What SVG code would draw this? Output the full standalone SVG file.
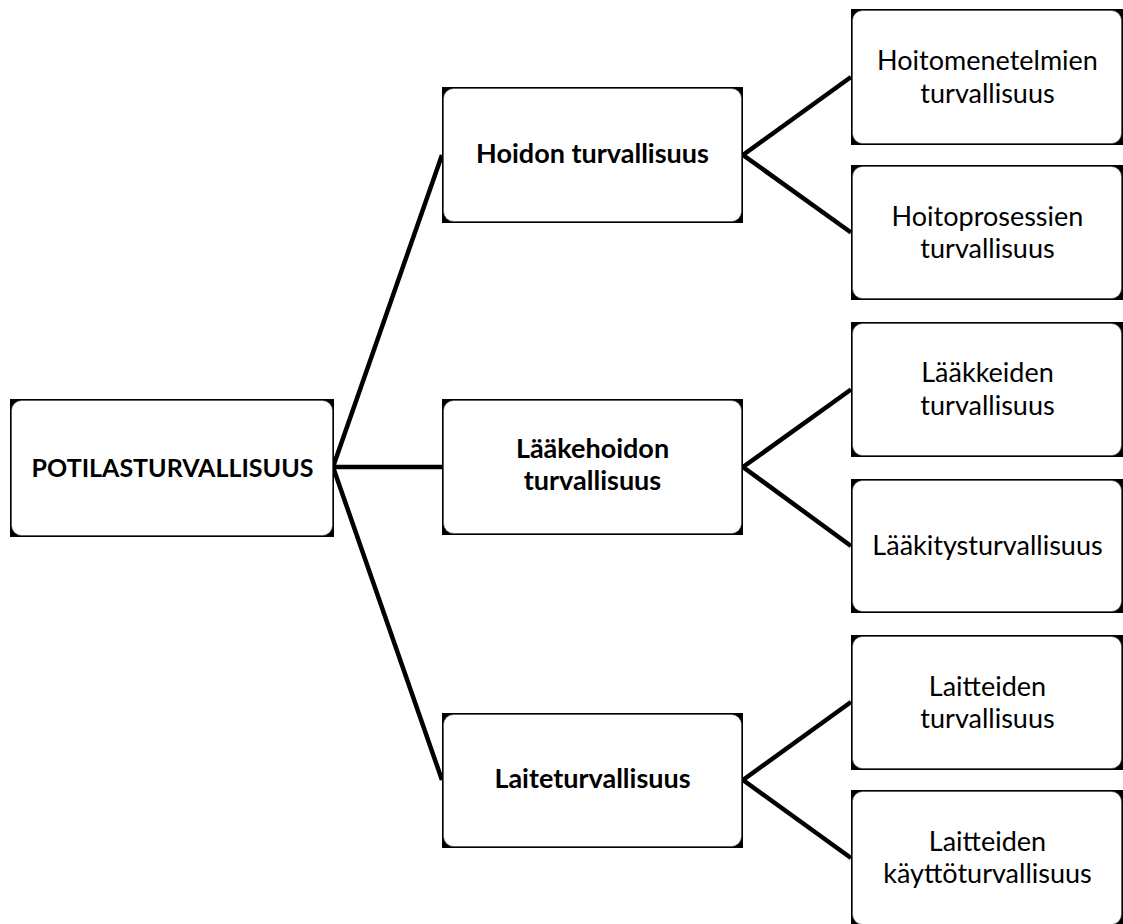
<svg xmlns="http://www.w3.org/2000/svg" width="1123" height="924" viewBox="0 0 1123 924">
<defs>
<style>
.bg{fill:#000}
.fg{fill:#fff;stroke:#444;stroke-width:0.6}
.t{font-family:Lato,"Liberation Sans",sans-serif;font-size:27px;fill:#000;text-anchor:middle}
.b{font-weight:bold}
.r{font-size:25px}
.c{stroke:#000;stroke-width:4.5;fill:none;stroke-linejoin:miter}
</style>
</defs>
<rect width="1123" height="924" fill="#fff"/>
<g id="connectors">
<polyline class="c" points="442,155 333,467 442,780"/>
<line class="c" x1="333" y1="467" x2="442" y2="467"/>
<polyline class="c" points="851,77 743,155 851,232.5"/>
<polyline class="c" points="851,389.5 743,467 851,546"/>
<polyline class="c" points="851,702 743,780 851,858"/>
</g>
<g id="root">
<rect class="bg" x="10" y="399" width="324" height="138"/>
<rect class="fg" x="11.5" y="400.5" width="321" height="135" rx="10"/>
<text class="t b r" x="172.5" y="477">POTILASTURVALLISUUS</text>
</g>
<g id="hoidon">
<rect class="bg" x="442" y="87" width="301" height="136"/>
<rect class="fg" x="443.5" y="88.5" width="298" height="133" rx="10"/>
<text class="t b" x="592.5" y="163">Hoidon turvallisuus</text>
</g>
<g id="laakehoidon">
<rect class="bg" x="442" y="399" width="301" height="136"/>
<rect class="fg" x="443.5" y="400.5" width="298" height="133" rx="10"/>
<text class="t b" x="592.5" y="458">Lääkehoidon</text>
<text class="t b" x="592.5" y="490">turvallisuus</text>
</g>
<g id="laite">
<rect class="bg" x="442" y="713" width="301" height="135"/>
<rect class="fg" x="443.5" y="714.5" width="298" height="132" rx="10"/>
<text class="t b" x="592.5" y="788">Laiteturvallisuus</text>
</g>
<g id="hoitomenetelmien">
<rect class="bg" x="851" y="9" width="272" height="136"/>
<rect class="fg" x="852.5" y="10.5" width="269" height="133" rx="10"/>
<text class="t" x="987.5" y="70">Hoitomenetelmien</text>
<text class="t" x="987.5" y="103">turvallisuus</text>
</g>
<g id="hoitoprosessien">
<rect class="bg" x="851" y="165" width="272" height="135"/>
<rect class="fg" x="852.5" y="166.5" width="269" height="132" rx="10"/>
<text class="t" x="987.5" y="226">Hoitoprosessien</text>
<text class="t" x="987.5" y="258">turvallisuus</text>
</g>
<g id="laakkeiden">
<rect class="bg" x="851" y="322" width="272" height="135"/>
<rect class="fg" x="852.5" y="323.5" width="269" height="132" rx="10"/>
<text class="t" x="987.5" y="382">Lääkkeiden</text>
<text class="t" x="987.5" y="415">turvallisuus</text>
</g>
<g id="laakitys">
<rect class="bg" x="851" y="479" width="272" height="134"/>
<rect class="fg" x="852.5" y="480.5" width="269" height="131" rx="10"/>
<text class="t" x="987.5" y="555">Lääkitysturvallisuus</text>
</g>
<g id="laitteiden">
<rect class="bg" x="851" y="635" width="272" height="135"/>
<rect class="fg" x="852.5" y="636.5" width="269" height="132" rx="10"/>
<text class="t" x="987.5" y="696">Laitteiden</text>
<text class="t" x="987.5" y="728">turvallisuus</text>
</g>
<g id="kaytto">
<rect class="bg" x="851" y="790" width="272" height="136"/>
<rect class="fg" x="852.5" y="791.5" width="269" height="133" rx="10"/>
<text class="t" x="987.5" y="851">Laitteiden</text>
<text class="t" x="987.5" y="883">käyttöturvallisuus</text>
</g>
</svg>
